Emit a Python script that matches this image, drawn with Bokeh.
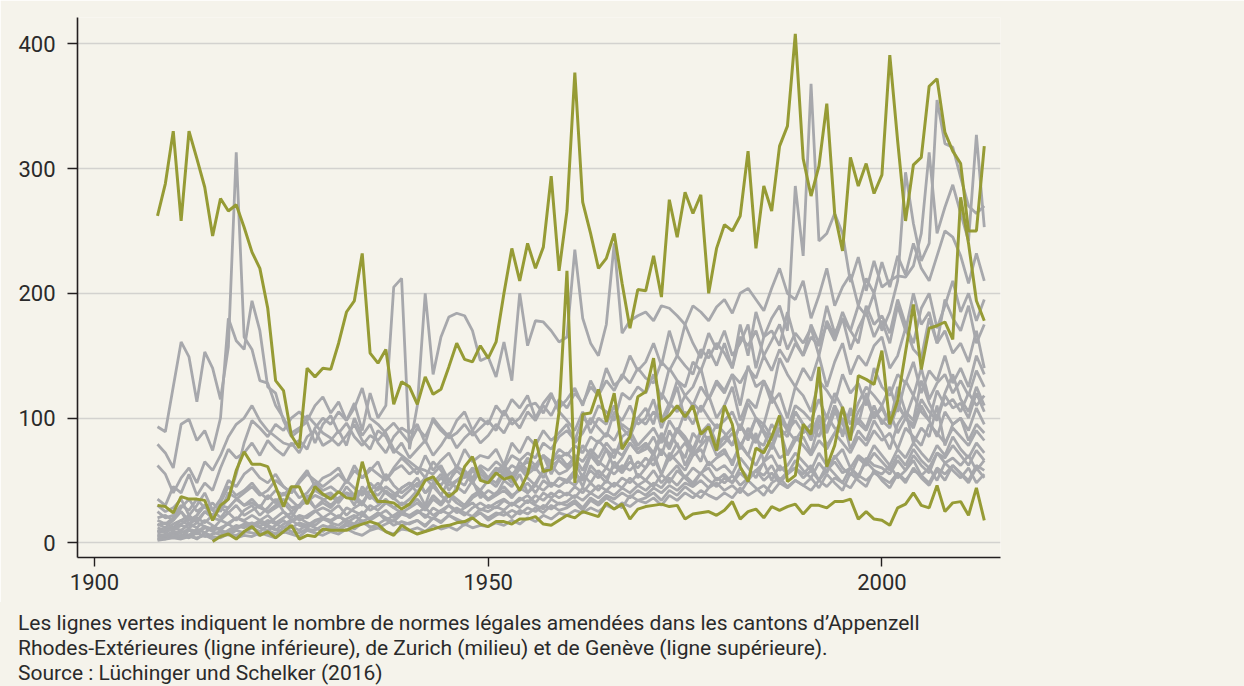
from bokeh.plotting import figure
from bokeh.models import FixedTicker, Range1d, Div
from bokeh.layouts import column
from bokeh.embed import file_html
from bokeh.resources import INLINE

# ---------------- data ----------------
FIRST_YEAR = 1908
X_TICKS = [1900, 1950, 2000]
Y_TICKS = [0, 100, 200, 300, 400]

# Genève (upper green line), 1908-2013
geneva = [262, 288,
          330, 258, 330, 308, 285, 246, 276, 266, 271, 253,
          233, 220, 188, 130, 122, 86, 76, 140, 133, 140,
          139, 160, 185, 194, 232, 152, 144, 155, 111, 129,
          125, 111, 133, 119, 123, 141, 160, 147, 145, 158,
          148, 161, 200, 236, 210, 240, 220, 237, 294, 218,
          266, 377, 273, 248, 220, 228, 248, 208, 172, 203,
          202, 230, 197, 275, 245, 281, 264, 279, 200, 236,
          255, 250, 262, 314, 236, 286, 266, 318, 334, 408,
          308, 278, 302, 352, 264, 234, 309, 286, 304, 280,
          295, 391, 322, 258, 303, 309, 366, 372, 329, 314,
          304, 250, 250, 318]

# Zurich (middle green line), 1908-2013
zurich = [30, 29,
          24, 37, 35, 35, 34, 18, 30, 35, 58, 73,
          63, 63, 61, 45, 29, 45, 45, 31, 45, 39,
          35, 41, 36, 35, 65, 43, 33, 33, 32, 27,
          31, 39, 50, 53, 44, 37, 42, 61, 69, 50,
          48, 56, 51, 53, 42, 55, 83, 57, 59, 105,
          218, 48, 103, 104, 123, 97, 120, 75, 85, 117,
          121, 148, 97, 102, 110, 101, 110, 87, 93, 74,
          110, 95, 61, 49, 76, 72, 85, 102, 49, 54,
          95, 87, 141, 61, 78, 109, 82, 134, 131, 127,
          154, 95, 114, 153, 191, 139, 172, 174, 177, 163,
          277, 240, 194, 178]

# Appenzell Rhodes-Extérieures (lower green line), 1915-2013
AR_FIRST_YEAR = 1915
appenzell_ar = [1, 5, 7, 3, 9,
                13, 6, 9, 4, 9, 14, 3, 6, 5, 11,
                10, 10, 10, 13, 15, 17, 15, 9, 6, 14,
                10, 7, 9, 11, 13, 14, 16, 17, 20, 15,
                13, 17, 17, 15, 19, 19, 21, 15, 14, 18,
                22, 20, 25, 23, 21, 32, 27, 31, 19, 27,
                29, 30, 31, 29, 30, 19, 23, 24, 25, 22,
                26, 33, 19, 25, 27, 20, 29, 26, 29, 31,
                23, 30, 30, 28, 33, 33, 35, 19, 25, 19,
                18, 14, 28, 31, 40, 30, 28, 46, 25, 32,
                33, 22, 44, 18]

# other cantons (grey lines), 1908-2013
grey_h1 = [62, 55,
           40, 52, 60, 48, 65, 58, 70, 85, 95, 100,
           110, 98, 90, 85, 80, 78, 82, 75, 92, 100,
           95, 105, 98, 112, 90, 120, 100, 110, 205, 212,
           75, 110, 200, 135, 165, 181, 184, 182, 170, 146,
           149, 133, 161, 130, 200, 158, 178, 177, 170, 161,
           165, 235, 180, 160, 150, 175, 240, 168, 178, 182,
           185, 178, 190, 188, 182, 175, 190, 185, 178, 189,
           195, 184, 200, 204, 195, 186, 204, 220, 200, 195,
           210, 180, 198, 220, 190, 205, 215, 190, 212, 200,
           225, 205, 230, 215, 240, 220, 210, 230, 250, 245,
           230, 208, 232, 210]
grey_h2 = [93, 89,
           125, 161, 149, 113, 153, 140, 115, 157, 313, 165,
           155, 130, 128, 110, 100, 88, 92, 97, 80, 95,
           102, 88, 96, 85, 78, 86, 82, 90, 96, 88,
           80, 92, 85, 98, 90, 84, 88, 95, 86, 92,
           98, 90, 106, 95, 100, 110, 112, 104, 118, 108,
           115, 124, 110, 130, 118, 140, 126, 132, 150, 138,
           145, 160, 142, 170, 150, 175, 160, 148, 168, 155,
           170, 150, 160, 175, 140, 165, 170, 158, 185, 162,
           150, 175, 160, 190, 168, 180, 155, 172, 185, 165,
           178, 160, 190, 170, 200, 175, 185, 160, 195, 180,
           170, 190, 160, 175]
grey_h3 = [18, 15,
           20, 25, 18, 22, 30, 26, 20, 28, 35, 30,
           32, 28, 25, 30, 35, 28, 30, 33, 38, 35,
           30, 36, 40, 38, 42, 35, 45, 40, 38, 44,
           48, 45, 52, 50, 46, 55, 60, 58, 52, 62,
           58, 65, 60, 70, 66, 72, 68, 80, 75, 85,
           90, 82, 100, 95, 110, 105, 98, 120, 115, 125,
           120, 135, 115, 140, 130, 125, 145, 138, 155, 142,
           160, 140, 175, 150, 185, 165, 180, 190, 170, 286,
           230, 368, 242, 248, 264, 248, 209, 229, 202, 226,
           205, 210, 214, 213, 222, 248, 313, 248, 269, 287,
           264, 242, 327, 253]
grey_h4 = [14, 16,
           12, 18, 22, 16, 25, 20, 18, 24, 30, 22,
           26, 30, 24, 28, 32, 25, 30, 35, 28, 34,
           38, 32, 40, 35, 30, 42, 38, 45, 40, 36,
           42, 48, 40, 45, 52, 46, 50, 55, 48, 58,
           52, 60, 55, 62, 58, 68, 62, 70, 65, 75,
           70, 78, 72, 85, 80, 88, 82, 95, 90, 100,
           95, 105, 98, 112, 105, 118, 110, 125, 115, 130,
           122, 135, 128, 140, 132, 150, 138, 155, 145, 160,
           150, 165, 158, 175, 162, 180, 170, 190, 182, 200,
           170, 185, 210, 297, 256, 226, 240, 355, 320, 317,
           293, 270, 264, 270]
grey_h5 = [79, 72,
           60, 95, 99, 82, 90, 74, 100, 180, 162, 155,
           194, 170, 125, 120, 98, 85, 90, 102, 95, 88,
           84, 78, 86, 95, 82, 75, 90, 85, 72, 80,
           68, 75, 82, 70, 78, 88, 76, 84, 90, 80,
           86, 95, 88, 100, 92, 105, 98, 110, 102, 115,
           108, 120, 112, 125, 118, 130, 122, 135, 128, 140,
           132, 128, 145, 138, 150, 142, 135, 155, 148, 160,
           152, 140, 165, 158, 170, 150, 162, 175, 155, 168,
           160, 172, 150, 178, 165, 185, 170, 160, 190, 175,
           182, 168, 195, 175, 160, 188, 200, 172, 190, 210,
           185, 200, 178, 195]
grey_m1 = [35, 30,
           45, 40, 55, 38, 48, 42, 60, 75, 68, 72,
           80, 70, 82, 75, 70, 80, 72, 85, 90, 78,
           82, 90, 78, 100, 86, 95, 80, 72, 85, 92,
           88, 95, 80, 100, 92, 85, 98, 105, 90, 100,
           95, 110, 102, 115, 108, 118, 100, 112, 120, 105,
           98, 90, 105, 88, 100, 95, 110, 92, 85, 100,
           108, 95, 120, 110, 130, 118, 125, 140, 115, 128,
           120, 135, 110, 142, 125, 130, 118, 148, 135, 125,
           140, 130, 150, 125, 145, 160, 135, 150, 142, 158,
           165, 140, 150, 172, 155, 148, 180, 160, 170, 152,
           160, 145, 170, 140]
grey_m2 = [30, 25,
           28, 35, 22, 30, 40, 26, 35, 50, 45, 55,
           60, 52, 48, 55, 45, 40, 50, 58, 45, 52,
           55, 60, 48, 62, 52, 58, 65, 50, 60, 68,
           62, 55, 70, 58, 66, 72, 60, 75, 65, 70,
           68, 75, 62, 80, 72, 85, 78, 90, 82, 88,
           95, 80, 88, 100, 92, 85, 105, 98, 110, 95,
           100, 115, 92, 108, 125, 98, 112, 105, 118, 100,
           110, 125, 98, 115, 108, 130, 112, 120, 100, 125,
           118, 105, 130, 122, 112, 135, 120, 128, 110, 140,
           125, 118, 135, 128, 145, 120, 138, 130, 150, 128,
           140, 125, 150, 135]
grey_m3 = [20, 22,
           18, 28, 35, 25, 30, 20, 32, 45, 38, 42,
           48, 40, 35, 42, 38, 45, 36, 40, 48, 42,
           45, 40, 50, 44, 38, 48, 42, 55, 46, 40,
           45, 52, 40, 48, 55, 42, 50, 46, 58, 52,
           48, 55, 60, 52, 65, 58, 62, 70, 55, 68,
           72, 65, 78, 70, 82, 75, 68, 85, 90, 78,
           85, 92, 80, 98, 88, 105, 95, 110, 100, 92,
           98, 105, 90, 112, 100, 95, 118, 105, 92, 110,
           105, 98, 115, 100, 120, 108, 95, 112, 125, 118,
           110, 125, 105, 130, 118, 140, 115, 128, 135, 120,
           130, 118, 138, 125]
grey_m4 = [12, 10,
           15, 18, 14, 20, 16, 22, 28, 35, 55, 80,
           98, 92, 85, 95, 90, 100, 105, 98, 110, 117,
           104, 113, 98, 108, 124, 100, 95, 88, 75, 70,
           65, 60, 58, 55, 62, 50, 58, 52, 60, 55,
           50, 58, 62, 55, 60, 65, 58, 70, 62, 66,
           60, 70, 65, 75, 68, 80, 72, 78, 85, 75,
           80, 72, 88, 78, 92, 85, 75, 90, 82, 95,
           88, 78, 95, 85, 100, 90, 82, 98, 92, 105,
           95, 88, 102, 92, 110, 98, 90, 105, 115, 100,
           108, 95, 112, 100, 118, 105, 98, 122, 110, 115,
           105, 120, 110, 118]
grey_m5 = [8, 10,
           12, 15, 20, 18, 25, 22, 30, 28, 35, 40,
           45, 38, 42, 50, 45, 40, 48, 55, 50, 45,
           50, 55, 48, 58, 52, 60, 55, 50, 58, 62,
           55, 60, 52, 65, 58, 48, 62, 55, 50, 60,
           52, 48, 58, 50, 62, 55, 60, 52, 65, 70,
           62, 68, 58, 72, 65, 60, 75, 70, 80, 72,
           78, 70, 85, 75, 90, 82, 72, 88, 95, 80,
           85, 92, 78, 88, 80, 95, 85, 100, 90, 82,
           92, 85, 98, 88, 105, 95, 85, 100, 92, 110,
           95, 105, 88, 100, 92, 110, 98, 85, 105, 95,
           100, 90, 108, 95]
grey_l1 = [10, 8,
           12, 10, 15, 12, 18, 14, 10, 16, 20, 18,
           22, 18, 15, 20, 25, 18, 22, 20, 25, 28,
           25, 30, 22, 28, 32, 26, 30, 35, 28, 32,
           30, 35, 28, 38, 32, 40, 35, 30, 38, 42,
           35, 40, 45, 38, 42, 48, 40, 50, 45, 52,
           48, 55, 50, 58, 52, 60, 55, 62, 58, 65,
           60, 68, 55, 72, 65, 58, 70, 75, 62, 68,
           72, 65, 78, 70, 62, 75, 80, 68, 72, 85,
           78, 70, 82, 75, 88, 80, 72, 85, 78, 90,
           82, 88, 75, 92, 85, 78, 95, 88, 80, 92,
           85, 78, 90, 82]
grey_l2 = [5, 6,
           8, 5, 10, 7, 12, 9, 6, 10, 14, 12,
           15, 12, 10, 14, 18, 12, 16, 14, 18, 20,
           18, 22, 16, 20, 25, 18, 22, 26, 20, 24,
           22, 26, 20, 28, 24, 30, 26, 22, 28, 32,
           28, 32, 35, 30, 34, 38, 32, 40, 36, 42,
           38, 45, 40, 48, 42, 50, 45, 52, 48, 55,
           50, 58, 48, 55, 62, 52, 60, 55, 65, 58,
           62, 55, 68, 60, 52, 65, 70, 58, 62, 72,
           65, 58, 72, 62, 68, 75, 60, 70, 65, 78,
           70, 62, 75, 68, 80, 72, 65, 78, 70, 85,
           75, 68, 80, 72]
grey_l3 = [3, 4,
           5, 4, 6, 3, 8, 5, 4, 7, 6, 9,
           8, 6, 10, 7, 12, 9, 8, 11, 10, 14,
           12, 10, 14, 11, 16, 13, 12, 15, 18, 14,
           16, 18, 14, 20, 17, 22, 19, 16, 21, 24,
           20, 24, 22, 26, 23, 28, 25, 30, 27, 32,
           30, 34, 28, 36, 32, 38, 35, 40, 36, 42,
           38, 44, 40, 46, 42, 48, 45, 50, 44, 52,
           48, 54, 46, 52, 58, 50, 56, 48, 55, 60,
           52, 58, 50, 62, 55, 48, 60, 54, 65, 58,
           55, 62, 52, 58, 66, 54, 60, 50, 64, 58,
           52, 60, 48, 55]
grey_l4 = [15, 12,
           18, 25, 15, 22, 30, 20, 28, 24, 18, 26,
           30, 22, 28, 35, 25, 20, 30, 38, 28, 32,
           28, 35, 40, 30, 45, 38, 32, 42, 36, 30,
           35, 42, 30, 48, 38, 32, 45, 40, 50, 36,
           42, 38, 50, 45, 55, 40, 48, 58, 45, 52,
           50, 58, 45, 62, 55, 48, 65, 58, 70, 52,
           60, 72, 55, 68, 80, 62, 75, 65, 85, 70,
           75, 62, 80, 70, 88, 65, 78, 92, 70, 82,
           85, 72, 95, 78, 88, 100, 75, 90, 82, 98,
           88, 75, 95, 105, 80, 92, 85, 110, 78, 95,
           100, 82, 95, 88]
grey_l5 = [6, 5,
           7, 9, 6, 11, 8, 13, 10, 8, 12, 15,
           12, 16, 13, 10, 15, 18, 14, 12, 17, 20,
           16, 14, 19, 22, 17, 20, 24, 18, 22, 26,
           20, 24, 28, 22, 26, 30, 24, 28, 32, 26,
           30, 28, 34, 30, 36, 32, 38, 34, 40, 36,
           40, 36, 44, 40, 46, 42, 48, 44, 52, 46,
           50, 45, 55, 48, 58, 52, 46, 56, 60, 50,
           55, 48, 60, 52, 58, 64, 50, 62, 55, 66,
           58, 52, 64, 56, 70, 60, 54, 68, 62, 72,
           65, 58, 70, 62, 75, 66, 60, 72, 68, 78,
           70, 62, 74, 66]
grey_l6 = [25, 20,
           22, 30, 26, 35, 28, 32, 25, 40, 36, 30,
           35, 28, 38, 32, 40, 34, 28, 36, 42, 38,
           40, 34, 45, 38, 32, 42, 48, 40, 35, 44,
           48, 40, 52, 45, 38, 50, 44, 55, 48, 42,
           50, 45, 55, 48, 60, 52, 46, 58, 62, 55,
           58, 65, 52, 70, 62, 75, 60, 68, 80, 72,
           75, 85, 70, 90, 78, 68, 88, 80, 95, 75,
           85, 78, 95, 82, 100, 88, 75, 92, 85, 105,
           95, 82, 100, 90, 110, 85, 105, 95, 120, 100,
           110, 95, 125, 105, 98, 130, 112, 100, 120, 135,
           115, 105, 125, 110]
grey_l7 = [4, 3,
           5, 6, 4, 8, 5, 7, 9, 6, 10, 8,
           12, 9, 14, 11, 8, 13, 10, 15, 12, 9,
           14, 11, 16, 13, 18, 12, 15, 19, 14, 17,
           15, 18, 13, 20, 16, 22, 18, 14, 20, 24,
           18, 22, 25, 20, 26, 23, 28, 24, 30, 26,
           28, 32, 26, 34, 30, 36, 32, 28, 38, 34,
           36, 40, 34, 42, 38, 45, 40, 36, 44, 48,
           42, 46, 40, 50, 44, 38, 48, 52, 45, 50,
           46, 52, 44, 55, 48, 42, 56, 50, 45, 58,
           50, 44, 55, 48, 60, 52, 46, 58, 50, 62,
           55, 48, 60, 52]
grey_l8 = [9, 11,
           10, 14, 12, 16, 13, 11, 18, 15, 20, 17,
           14, 18, 22, 16, 20, 24, 18, 22, 26, 20,
           24, 20, 28, 25, 22, 30, 26, 32, 28, 24,
           28, 32, 26, 35, 30, 38, 32, 28, 36, 40,
           34, 38, 42, 36, 44, 40, 46, 42, 48, 45,
           50, 46, 55, 48, 58, 52, 62, 56, 65, 60,
           68, 62, 75, 66, 72, 80, 70, 78, 85, 74,
           80, 88, 75, 92, 82, 78, 95, 85, 90, 98,
           88, 95, 85, 102, 92, 88, 108, 96, 90, 105,
           98, 92, 110, 100, 95, 115, 105, 98, 118, 108,
           112, 100, 120, 105]
grey_l9 = [7, 6,
           9, 8, 11, 9, 13, 10, 12, 15, 11, 14,
           16, 13, 18, 15, 12, 17, 20, 16, 14, 19,
           17, 21, 18, 15, 22, 19, 24, 20, 17, 23,
           21, 25, 22, 19, 26, 23, 28, 24, 21, 27,
           25, 29, 26, 32, 28, 34, 30, 27, 35, 31,
           33, 38, 34, 40, 36, 42, 38, 44, 40, 46,
           42, 48, 44, 52, 46, 54, 48, 56, 50, 45,
           52, 48, 56, 50, 58, 54, 62, 50, 57, 60,
           55, 62, 50, 58, 65, 56, 60, 52, 68, 62,
           60, 55, 66, 58, 70, 62, 56, 72, 64, 68,
           62, 70, 58, 66]
grey_l10 = [2, 3,
            4, 3, 5, 4, 6, 3, 5, 7, 4, 6,
            5, 8, 6, 4, 9, 7, 5, 10, 8, 6,
            9, 7, 11, 8, 6, 10, 12, 9, 7, 11,
            10, 12, 9, 14, 11, 13, 10, 15, 12, 14,
            13, 16, 14, 18, 15, 20, 17, 22, 19, 24,
            22, 26, 24, 28, 25, 30, 27, 32, 29, 34,
            32, 36, 30, 38, 34, 40, 36, 42, 38, 35,
            40, 36, 44, 38, 42, 46, 40, 48, 44, 50,
            46, 42, 50, 45, 52, 48, 44, 54, 50, 56,
            52, 48, 56, 50, 58, 54, 48, 60, 55, 62,
            56, 50, 62, 58]

grey_lines = [grey_h1, grey_h2, grey_h3, grey_h4, grey_h5,
              grey_m1, grey_m2, grey_m3, grey_m4, grey_m5,
              grey_l1, grey_l2, grey_l3, grey_l4, grey_l5,
              grey_l6, grey_l7, grey_l8, grey_l9, grey_l10]

caption_lines = [
    "Les lignes vertes indiquent le nombre de normes légales amendées dans les cantons d\u2019Appenzell",
    "Rhodes-Extérieures (ligne inférieure), de Zurich (milieu) et de Genève (ligne supérieure).",
    "Source : Lüchinger und Schelker (2016)",
]

# ---------------- styling ----------------
BG = "#f5f3eb"
GREY = "#a7a8ac"
GREEN = "#969b35"
TEXT = "#2a2a2a"
FONT = "Roboto"

W, H = 1244, 602
CAPTION_H = 686 - H
ML, MT = 77, 17
FRAME_W, FRAME_H = 923, 540
MR, MB = W - ML - FRAME_W, H - MT - FRAME_H
X0, X1 = 1897.84, 2015.06
Y0, Y1 = -11.8, 421.1

p = figure(width=W, height=H, output_backend="svg", toolbar_location=None,
           x_range=Range1d(X0, X1), y_range=Range1d(Y0, Y1),
           min_border_left=ML, min_border_right=MR,
           min_border_top=MT, min_border_bottom=MB,
           background_fill_color=BG, border_fill_color=BG,
           outline_line_color=None)

for s in grey_lines:
    yrs = list(range(FIRST_YEAR, FIRST_YEAR + len(s)))
    p.line(yrs, s, line_color=GREY, line_width=2.8)

for s, start in [(appenzell_ar, AR_FIRST_YEAR), (zurich, FIRST_YEAR), (geneva, FIRST_YEAR)]:
    yrs = list(range(start, start + len(s)))
    p.line(yrs, s, line_color=GREEN, line_width=3.0)

# axes
p.xgrid.visible = False
p.ygrid.ticker = FixedTicker(ticks=Y_TICKS)
p.ygrid.grid_line_color = "#d3d2cf"
p.ygrid.grid_line_width = 1.6

p.xaxis.ticker = FixedTicker(ticks=X_TICKS)
p.yaxis.ticker = FixedTicker(ticks=Y_TICKS)
for ax in (p.xaxis[0], p.yaxis[0]):
    ax.axis_line_color = "#231f20"
    ax.axis_line_width = 1.6
    ax.major_tick_line_color = "#231f20"
    ax.major_tick_line_width = 1.4
    ax.major_tick_in = 0
    ax.minor_tick_line_color = None
    ax.major_label_text_font = FONT
    ax.major_label_text_font_size = "22px"
    ax.major_label_text_color = TEXT
p.xaxis.major_tick_out = 9
p.xaxis.major_label_standoff = 7
p.yaxis.major_tick_out = 10
p.yaxis.major_label_standoff = 12

# caption block below the chart
caption_html = (
    f'<div style="width:{W}px;height:{CAPTION_H}px;box-sizing:border-box;'
    f'padding:9px 0 0 18px;background:{BG};font-family:{FONT};font-size:21px;'
    f'line-height:25px;color:{TEXT};white-space:nowrap;">'
    + "<br>".join(caption_lines) + "</div>"
)
caption = Div(text=caption_html, width=W, height=CAPTION_H,
              styles={"background-color": BG, "margin": "0", "padding": "0"})

page = column(p, caption, spacing=0)

open("out.html", "w").write(file_html(page, INLINE))
